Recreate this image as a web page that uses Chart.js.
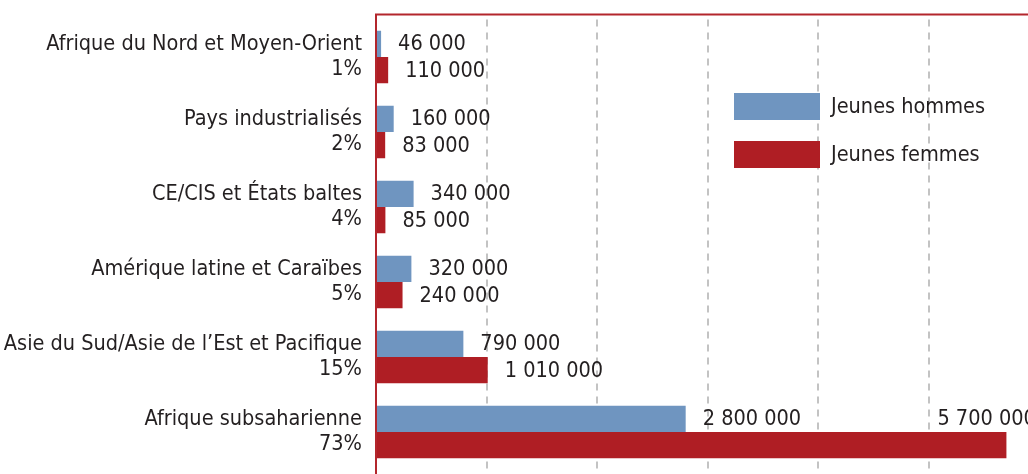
<!DOCTYPE html>
<html>
<head>
<meta charset="utf-8">
<script src="https://cdn.jsdelivr.net/npm/chart.js@4"></script>
<style>
html,body{margin:0;padding:0;background:#fff;overflow:hidden;width:1028px;height:474px;}
#wrap{width:1100px;height:474px;}
</style>
</head>
<body>
<div id="wrap"><canvas id="c" width="1100" height="474"></canvas></div>
<script>
const regions = [
  ["Afrique du Nord et Moyen-Orient", "1%"],
  ["Pays industrialisés", "2%"],
  ["CE/CIS et États baltes", "4%"],
  ["Amérique latine et Caraïbes", "5%"],
  ["Asie du Sud/Asie de l’Est et Pacifique", "15%"],
  ["Afrique subsaharienne", "73%"]
];
const seriesNames = ["Jeunes hommes", "Jeunes femmes"];
const jeunesHommes = [46000, 160000, 340000, 320000, 790000, 2800000];
const jeunesFemmes = [110000, 83000, 85000, 240000, 1010000, 5700000];
const xTicks = [0, 1000000, 2000000, 3000000, 4000000, 5000000, 6000000];

const FONT = '"Liberation Sans Narrow", "DejaVu Sans Condensed", Arial, sans-serif';
const FSIZE = 21.5;
const TEXT = '#231f20';
const BLUE = '#6f95c0';
const RED = '#af1e24';
const AXIS_RED = '#b3262c';

function fmt(v){ return String(v).replace(/\B(?=(\d{3})+(?!\d))/g, ' '); }

const labelPlugin = {
  id: 'valueLabels',
  afterDatasetsDraw(chart){
    const ctx = chart.ctx;
    ctx.save();
    ctx.font = FSIZE + 'px ' + FONT;
    ctx.fillStyle = TEXT;
    ctx.textBaseline = 'middle';
    chart.data.datasets.forEach((ds, di) => {
      const meta = chart.getDatasetMeta(di);
      meta.data.forEach((el, i) => {
        const txt = fmt(ds.data[i]);
        const w = ctx.measureText(txt).width;
        let x = el.x + 17, y = el.y + 1;
        if (x + w > 1028) { // would run off the visible page: place above the bar
          const h = el.height;
          x = el.x - 69; y = el.y - h + 1;
        }
        ctx.textAlign = 'left';
        ctx.fillText(txt, x, y);
      });
    });
    ctx.restore();
  }
};

const framePlugin = {
  id: 'frame',
  afterDatasetsDraw(chart){
    const ctx = chart.ctx, a = chart.chartArea;
    ctx.save();
    ctx.strokeStyle = AXIS_RED;
    ctx.lineWidth = 2;
    ctx.beginPath();
    ctx.moveTo(a.left, 14.5); ctx.lineTo(chart.width, 14.5);
    ctx.moveTo(a.left, 13.5); ctx.lineTo(a.left, chart.height);
    ctx.stroke();
    ctx.restore();
  }
};

const legendPlugin = {
  id: 'customLegend',
  afterDraw(chart){
    const ctx = chart.ctx;
    ctx.save();
    ctx.font = FSIZE + 'px ' + FONT;
    ctx.textBaseline = 'middle';
    ctx.textAlign = 'left';
    chart.data.datasets.forEach((ds, i) => {
      const y = 93 + i * 48;
      ctx.fillStyle = ds.backgroundColor;
      ctx.fillRect(734, y, 86, 27);
      ctx.fillStyle = TEXT;
      ctx.fillText(ds.label, 831, y + 14);
    });
    ctx.restore();
  }
};

new Chart(document.getElementById('c'), {
  type: 'bar',
  data: {
    labels: regions,
    datasets: [
      { label: seriesNames[0], data: jeunesHommes, backgroundColor: BLUE },
      { label: seriesNames[1], data: jeunesFemmes, backgroundColor: RED }
    ]
  },
  options: {
    indexAxis: 'y',
    responsive: false,
    animation: false,
    events: [],
    layout: { padding: { top: 19.5, bottom: 4.5, left: 0, right: 60.4 } },
    datasets: { bar: { categoryPercentage: 0.7, barPercentage: 1.0 } },
    plugins: { legend: { display: false }, tooltip: { enabled: false } },
    scales: {
      x: {
        min: xTicks[0], max: xTicks[xTicks.length - 1],
        afterBuildTicks(s){ s.ticks = xTicks.map(v => ({ value: v })); },
        afterFit(s){ s.height = 0; s.paddingLeft = 0; s.paddingRight = 0; },
        ticks: { display: false },
        grid: {
          drawTicks: false,
          color: c => (c.tick && c.tick.value === 0) ? 'rgba(0,0,0,0)' : '#c3c3c3',
          lineWidth: 2
        },
        border: { display: false, dash: [7, 6] }
      },
      y: {
        afterFit(s){ s.width = 376; s.paddingTop = 0; s.paddingBottom = 0; },
        grid: { display: false, drawTicks: false },
        border: { display: false },
        ticks: {
          padding: 14,
          color: TEXT,
          font: { family: FONT, size: FSIZE, lineHeight: 25 / FSIZE }
        }
      }
    }
  },
  plugins: [labelPlugin, framePlugin, legendPlugin]
});
</script>
</body>
</html>
